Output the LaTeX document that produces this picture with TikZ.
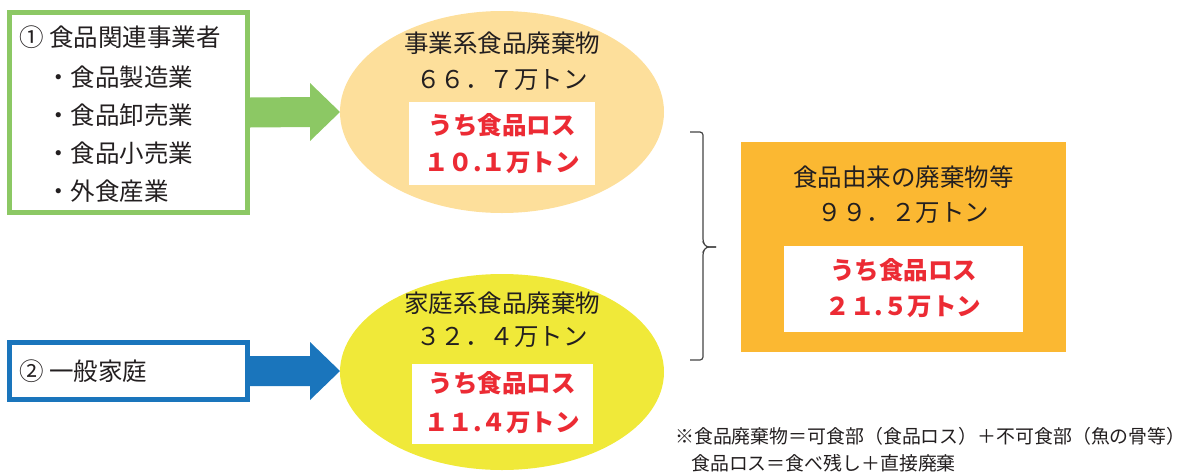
\documentclass[tikz,border=0pt]{standalone}
\usepackage{fontspec}
\setmainfont{Noto Sans CJK JP}
\usetikzlibrary{shapes.geometric,calc}
\definecolor{ink}{HTML}{231F20}
\definecolor{gfill}{HTML}{8CC864}
\definecolor{bfill}{HTML}{1A75BC}
\definecolor{peach}{HTML}{FDDF9B}
\definecolor{yel}{HTML}{F0E939}
\definecolor{orng}{HTML}{FBB832}
\definecolor{lossred}{HTML}{EC2B34}
\definecolor{bracec}{HTML}{444444}
\tikzset{
  txt/.style={inner sep=0pt, text=ink, font=\fontsize{24.5}{29}\selectfont},
  redtxt/.style={inner sep=0pt, text=lossred, font=\fontsize{24.5}{29}\selectfont\bfseries},
  notetxt/.style={inner sep=0pt, text=ink, font=\fontsize{18.9}{23}\selectfont, anchor=west},
  srcbox/.style={line width=5pt, fill=white, inner sep=0pt},
  whitebox/.style={fill=white, inner sep=0pt},
  blob/.style={ellipse, inner sep=0pt},
}
\begin{document}
\begin{tikzpicture}[x=1pt,y=-1pt]
\useasboundingbox (0,0) rectangle (1187,472);
% ellipses
\node[blob, fill=peach, minimum width=324pt, minimum height=202pt] (biz-waste) at (502,112) {};
\node[blob, fill=yel, minimum width=324pt, minimum height=196pt] (home-waste) at (502,372) {};
% source boxes
\node[srcbox, draw=gfill, minimum width=238pt, minimum height=200pt] (biz) at (128.5,112.5) {};
\node[srcbox, draw=bfill, minimum width=238pt, minimum height=57pt] (home) at (128.5,371) {};
% arrow tips
\coordinate (gtip) at (340,112);
\coordinate (btip) at (340,371);
\fill[gfill] ($(biz.east)+(0,-15)$) -- ($(gtip)+(-30,-15)$) -- ($(gtip)+(-30,-29)$) -- (gtip)
  -- ($(gtip)+(-30,29)$) -- ($(gtip)+(-30,15)$) -- ($(biz.east)+(0,15)$) -- cycle;
\fill[bfill] ($(home.east)+(0,-15)$) -- ($(btip)+(-30,-15)$) -- ($(btip)+(-30,-29)$) -- (btip)
  -- ($(btip)+(-30,29)$) -- ($(btip)+(-30,15)$) -- ($(home.east)+(0,15)$) -- cycle;
% source texts
\node[txt, anchor=west] (b0) at (19,37) {① 食品関連事業者};
\node[txt, anchor=west] (b1) at (46,77) {・食品製造業};
\node[txt, anchor=west] (b2) at (46,115) {・食品卸売業};
\node[txt, anchor=west] (b3) at (46,153) {・食品小売業};
\node[txt, anchor=west] (b4) at (46,191) {・外食産業};
\node[txt, anchor=west] (h0) at (19,371) {② 一般家庭};
% business waste
\node[txt] (bw1) at (502,43) {事業系食品廃棄物};
\node[txt] (bw2) at (502,80) {６６．７万トン};
\node[whitebox, minimum width=186pt, minimum height=83pt] (bwl) at (502,143.5) {};
\node[redtxt] (bwl1) at (502,125) {うち食品ロス};
\node[redtxt] (bwl2) at (502,163) {１０.１万トン};
% household waste
\node[txt] (hw1) at (502,303) {家庭系食品廃棄物};
\node[txt] (hw2) at (502,337) {３２．４万トン};
\node[whitebox, minimum width=181pt, minimum height=80pt] (hwl) at (502.5,404) {};
\node[redtxt] (hwl1) at (502,383) {うち食品ロス};
\node[redtxt] (hwl2) at (502,423) {１１.４万トン};
% brace
\coordinate (brt) at (690,132);
\coordinate (brb) at (690,360);
\draw[bracec, line width=1.2pt, rounded corners=3pt]
  (brt) -- ($(brt)+(13,0)$) -- ($(brt)+(13,110)$) -- ($(brt)+(16,115)$) -- ($(brt)+(26,115)$);
\draw[bracec, line width=1.2pt, rounded corners=3pt]
  ($(brt)+(26,115)$) -- ($(brt)+(16,115)$) -- ($(brt)+(13,120)$) -- ($(brb)+(13,0)$) -- (brb);
% total
\node[fill=orng, inner sep=0pt, minimum width=325pt, minimum height=210pt] (total) at (903.5,247) {};
\node[txt] (t1) at (903.5,177) {食品由来の廃棄物等};
\node[txt] (t2) at (903.5,213) {９９．２万トン};
\node[whitebox, minimum width=239pt, minimum height=86pt] (tl) at (903.5,289) {};
\node[redtxt] (tl1) at (903.5,270) {うち食品ロス};
\node[redtxt] (tl2) at (903.5,307) {２１.５万トン};
% note
\node[notetxt] (n1) at (675,436) {※食品廃棄物＝可食部（食品ロス）＋不可食部（魚の骨等）};
\node[notetxt] (n2) at (691,463) {食品ロス＝食べ残し＋直接廃棄};
\end{tikzpicture}
\end{document}
